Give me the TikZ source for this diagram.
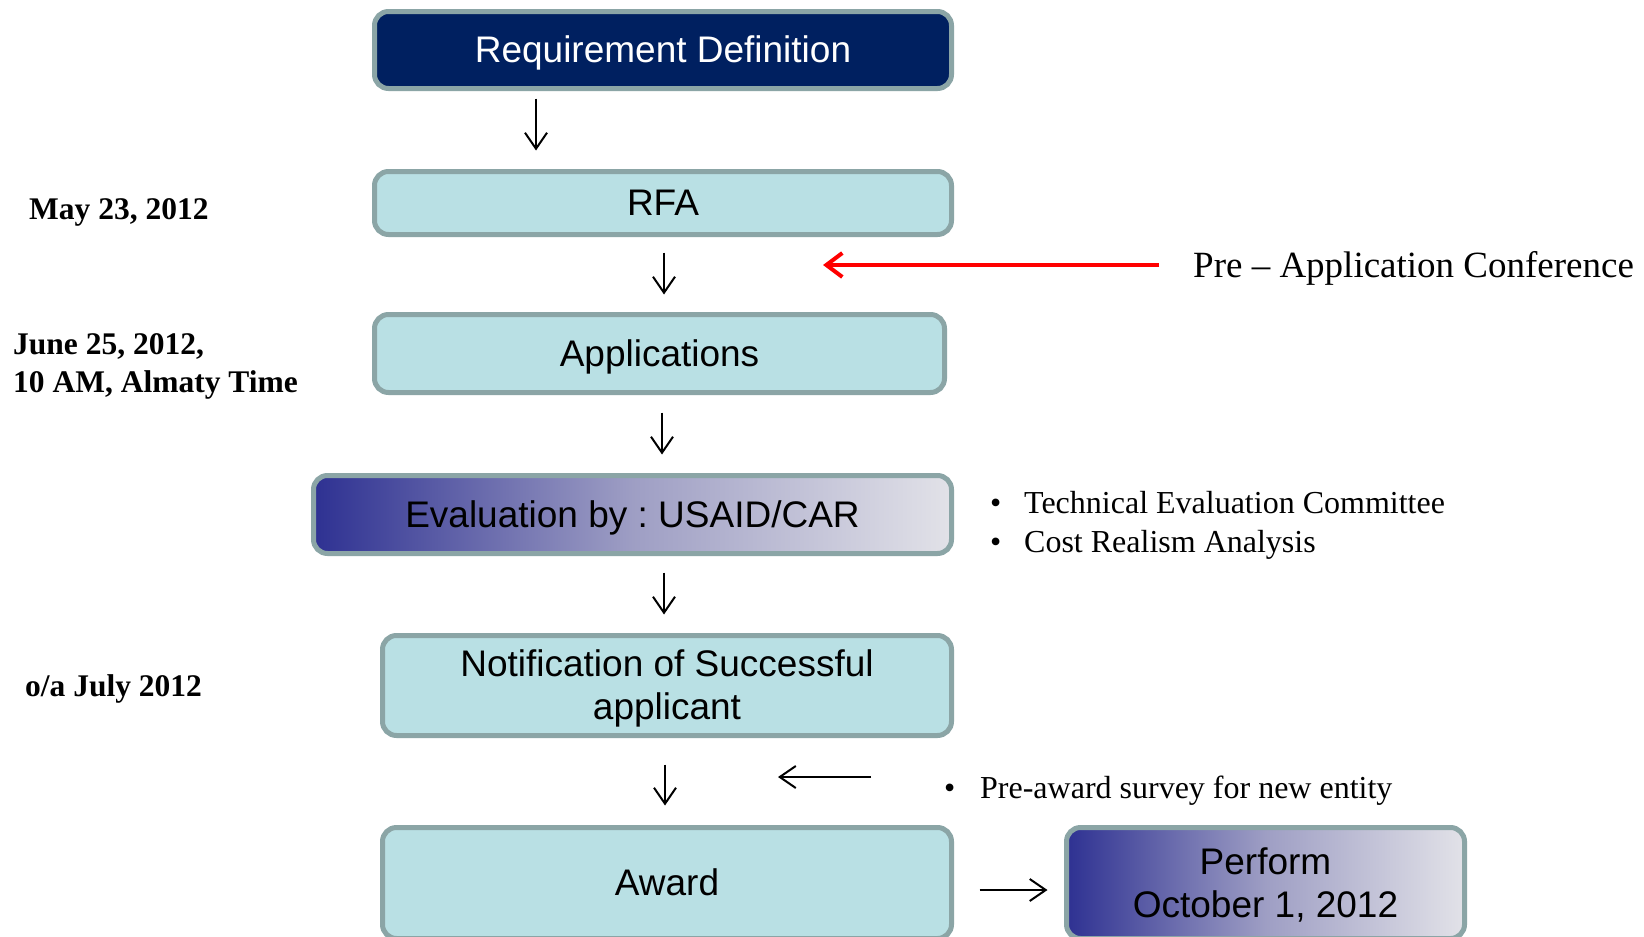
\documentclass[tikz,border=0pt]{standalone}
\usepackage{fontspec}
\setmainfont{Liberation Serif}
\setsansfont{Liberation Sans}
\usetikzlibrary{arrows.meta}
\frenchspacing
\definecolor{bordercol}{RGB}{139,165,166}
\definecolor{lightfill}{RGB}{185,224,228}
\definecolor{navyfill}{RGB}{0,32,96}
\definecolor{gradL}{RGB}{46,49,146}
\definecolor{gradM}{RGB}{158,158,196}
\definecolor{gradR}{RGB}{226,226,232}
\definecolor{redarrow}{RGB}{255,0,0}
\newcommand\bstrut{\rule[-0.2em]{0pt}{1.1em}}
\tikzset{
  box/.style={draw=bordercol, line width=5pt, rounded corners=14pt, inner sep=0pt,
    align=center, font=\sffamily\fontsize{37}{43}\selectfont},
  lightbox/.style={box, fill=lightfill},
  navybox/.style={box, fill=navyfill, text=white},
  gradbox/.style={box, left color=gradL, right color=gradR, middle color=gradM},
  datelabel/.style={anchor=base west, inner sep=0pt, align=left,
    font=\bfseries\fontsize{31.5}{38}\selectfont},
  notelabel/.style={anchor=base west, inner sep=0pt, font=\fontsize{32}{39}\selectfont},
  arr/.style={line width=2pt, -{Straight Barb[length=16pt,width=22pt]}},
  redarr/.style={draw=redarrow, line width=4pt, -{Straight Barb[length=16pt,width=24pt]}}
}
\begin{document}
\begin{tikzpicture}[x=1pt,y=-1pt]
\useasboundingbox (0,0) rectangle (1644,937);
\clip (0,0) rectangle (1644,937);
\fill[white] (0,0) rectangle (1644,937);

% boxes
\node[navybox, minimum width=577pt, minimum height=77pt] (req) at (663,50) {\bstrut Requirement Definition};
\node[lightbox, minimum width=577pt, minimum height=63pt] (rfa) at (663,203) {\bstrut RFA};
\node[lightbox, minimum width=570pt, minimum height=78pt] (app) at (659.5,353.5) {\bstrut Applications};
\node[gradbox, minimum width=638pt, minimum height=78pt] (eval) at (632.5,514.5) {\bstrut Evaluation by : USAID/CAR};
\node[lightbox, minimum width=569pt, minimum height=100pt] (notif) at (667,685.5) {\bstrut Notification of Successful\\applicant\bstrut};
\node[lightbox, minimum width=569pt, minimum height=111pt] (award) at (667,883) {\bstrut Award};
\node[gradbox, minimum width=398pt, minimum height=111pt] (perform) at (1265.5,883) {\bstrut Perform\\October 1, 2012\bstrut};

% date labels
\node[datelabel] (d1) at (29,219) {May 23, 2012};
\node[datelabel] (d2) at (13,392) {June 25, 2012,\\10 AM, Almaty Time};
\node[datelabel] (d3) at (25,696) {o/a July 2012};

% notes
\node[anchor=base west, inner sep=0pt, font=\fontsize{37}{42}\selectfont] (pre) at (1193,277) {Pre -- Application Conference};
\node[notelabel] (tec) at (990,513) {\makebox[34pt][l]{\textbullet}Technical Evaluation Committee};
\node[notelabel] (cost) at (990,552) {\makebox[34pt][l]{\textbullet}Cost Realism Analysis};
\node[notelabel] (survey) at (944,798) {\makebox[36pt][l]{\textbullet}Pre-award survey for new entity};

\coordinate (redtip) at (823,265);
\coordinate (smalltip) at (778,777);

% connectors
\draw[arr] ([shift={(-127,7.5)}]req.south) -- ([shift={(-127,-18.5)}]rfa.north);
\draw[arr] ([shift={(1,15.5)}]rfa.south) -- ([shift={(4.5,-17.5)}]app.north);
\draw[arr] ([shift={(2.5,17.5)}]app.south) -- ([shift={(29.5,-18.5)}]eval.north);
\draw[arr] ([shift={(31.5,16.5)}]eval.south) -- ([shift={(-3,-18.5)}]notif.north);
\draw[arr] ([shift={(-2,26.5)}]notif.south) -- ([shift={(-2,-19.5)}]award.north);
\draw[arr] ([shift={(25.5,7)}]award.east) -- ([shift={(-16.5,7)}]perform.west);
\draw[redarr] ([shift={(-34,-12)}]pre.base west) -- (redtip);
\draw[arr] ([shift={(-73,-21)}]survey.base west) -- (smalltip);
\end{tikzpicture}
\end{document}
